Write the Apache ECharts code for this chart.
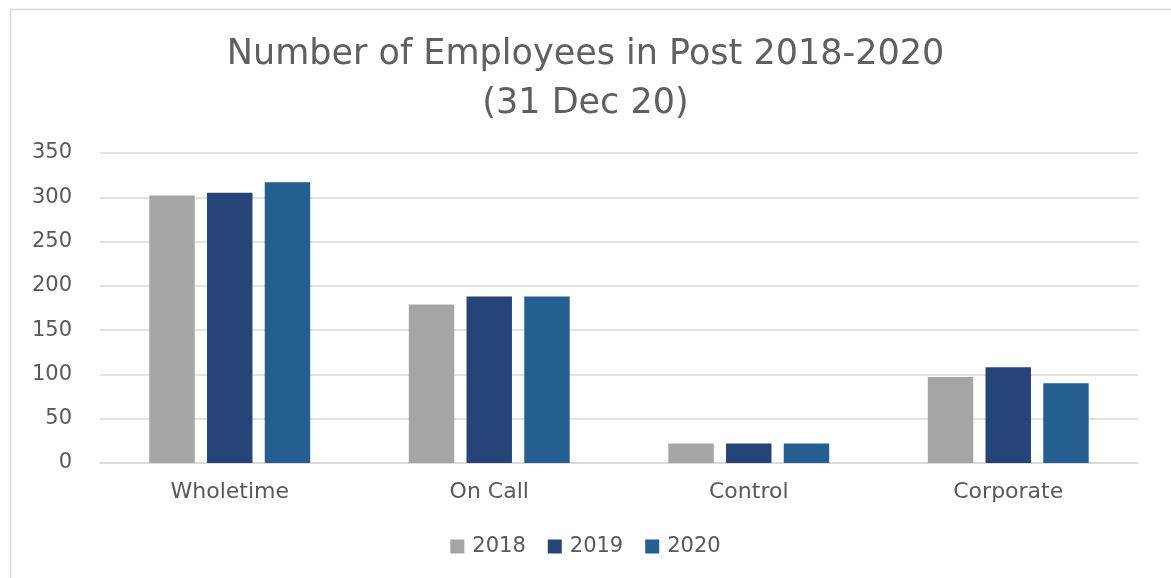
<!DOCTYPE html>
<html>
<head>
<meta charset="utf-8">
<script src="https://cdn.jsdelivr.net/npm/echarts@6/dist/echarts.min.js"></script>
<style>
html,body{margin:0;padding:0;background:#fff;}
#chart{width:1171px;height:578px;}
</style>
</head>
<body>
<div id="chart"></div>
<script>
const categories = ['Wholetime', 'On Call', 'Control', 'Corporate'];
const seriesNames = ['2018', '2019', '2020'];
const values2018 = [302, 179, 22, 97];
const values2019 = [305, 188, 22, 108];
const values2020 = [317, 188, 22, 90];
const colors = ['#A5A5A5', '#264478', '#255E91'];
const titleText = 'Number of Employees in Post 2018-2020\n(31 Dec 20)';

const chart = echarts.init(document.getElementById('chart'), null, {renderer: 'canvas'});
const allValues = [values2018, values2019, values2020];
chart.setOption({
  animation: false,
  backgroundColor: '#fff',
  graphic: [{
    type: 'rect', left: 8, top: 7,
    shape: {width: 1200, height: 600},
    style: {fill: 'none', stroke: '#D9D9D9', lineWidth: 1.5},
    silent: true
  }],
  title: {
    text: titleText,
    left: 'center', top: 25,
    textStyle: {fontFamily: 'DejaVu Sans', fontSize: 35, fontWeight: 'normal', color: '#5F5F5F', lineHeight: 49}
  },
  legend: {
    top: 531, left: 'center',
    itemWidth: 14, itemHeight: 14, itemGap: 22,
    icon: 'rect',
    textStyle: {fontFamily: 'DejaVu Sans', fontSize: 21, color: '#595959', padding: [0, 0, 0, 3]},
    data: seriesNames
  },
  grid: {left: 100, right: 33, top: 153, bottom: 115, containLabel: false},
  xAxis: {
    type: 'category', data: categories,
    axisLine: {lineStyle: {color: '#D9D9D9', width: 1.5}},
    axisTick: {show: false},
    axisLabel: {fontFamily: 'DejaVu Sans', fontSize: 22, color: '#595959', margin: 18}
  },
  yAxis: {
    type: 'value', min: 0, max: 350, interval: 50,
    axisLine: {show: false}, axisTick: {show: false},
    splitLine: {lineStyle: {color: '#D9D9D9', width: 1.5}},
    axisLabel: {fontFamily: 'DejaVu Sans', fontSize: 21, color: '#595959', margin: 28}
  },
  series: seriesNames.map((n, i) => ({
    name: n, type: 'bar', data: allValues[i],
    barGap: '27%', barCategoryGap: '38%',
    itemStyle: {color: colors[i]}
  }))
});
</script>
</body>
</html>
